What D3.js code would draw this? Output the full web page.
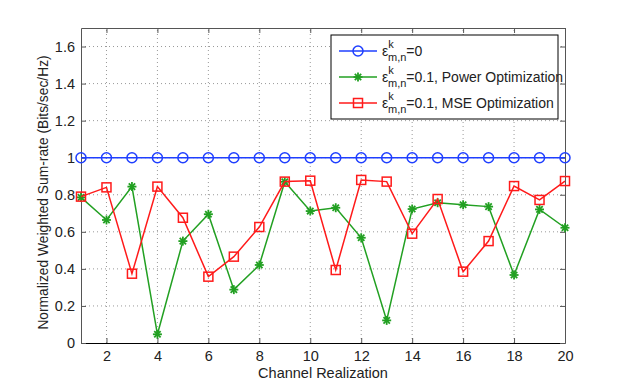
<!DOCTYPE html>
<html>
<head>
<meta charset="utf-8">
<script src="https://cdn.jsdelivr.net/npm/d3@7"></script>
<style>
  body { margin: 0; background: #fff; }
  text { font-family: "Liberation Sans", Arial, sans-serif; fill: #222; }
</style>
</head>
<body>
<svg id="chart"></svg>
<script>
// chart data
const realizations = d3.range(1, 21);
const ideal = realizations.map(() => 1);
const powerOpt = [0.786, 0.664, 0.844, 0.047, 0.55, 0.695, 0.288, 0.421, 0.87, 0.712,
                  0.73, 0.568, 0.122, 0.723, 0.757, 0.746, 0.736, 0.367, 0.721, 0.622];
const mseOpt = [0.79, 0.84, 0.374, 0.844, 0.676, 0.358, 0.466, 0.626, 0.871, 0.876,
                0.394, 0.88, 0.871, 0.59, 0.777, 0.385, 0.55, 0.847, 0.772, 0.874];
const xTicks = [2, 4, 6, 8, 10, 12, 14, 16, 18, 20];
const yTicks = [0, 0.2, 0.4, 0.6, 0.8, 1, 1.2, 1.4, 1.6];

const width = 623, height = 387;
const margin = { left: 81, right: 58, top: 28, bottom: 44 };

const svg = d3.select("#chart").attr("width", width).attr("height", height);

const x = d3.scaleLinear().domain([1, 20]).range([margin.left, width - margin.right]);
const y = d3.scaleLinear().domain([0, 1.7]).range([height - margin.bottom, margin.top]);

// dotted grid
const grid = svg.append("g").attr("stroke", "#999").attr("stroke-dasharray", "1,3").attr("stroke-width", 1);
grid.selectAll("line.gx").data(xTicks.filter(d => d < 20)).join("line")
    .attr("x1", d => x(d)).attr("x2", d => x(d))
    .attr("y1", y(0)).attr("y2", y(1.7));
grid.selectAll("line.gy").data(yTicks.filter(d => d > 0)).join("line")
    .attr("y1", d => y(d)).attr("y2", d => y(d))
    .attr("x1", x(1)).attr("x2", x(20));

// axes (ticks pointing inward, box on all sides)
const axisColor = "#555";
const bottomAxis = svg.append("g")
    .attr("transform", `translate(0,${y(0)})`)
    .call(d3.axisBottom(x).tickValues(xTicks).tickSizeInner(-5).tickSizeOuter(0).tickPadding(8));
const topAxis = svg.append("g")
    .attr("transform", `translate(0,${y(1.7)})`)
    .call(d3.axisTop(x).tickValues(xTicks).tickSizeInner(-5).tickSizeOuter(0).tickFormat(""));
const leftAxis = svg.append("g")
    .attr("transform", `translate(${x(1)},0)`)
    .call(d3.axisLeft(y).tickValues(yTicks).tickSizeInner(-5).tickSizeOuter(0).tickPadding(6).tickFormat(d3.format("~g")));
const rightAxis = svg.append("g")
    .attr("transform", `translate(${x(20)},0)`)
    .call(d3.axisRight(y).tickValues(yTicks).tickSizeInner(-5).tickSizeOuter(0).tickFormat(""));

[bottomAxis, topAxis, leftAxis, rightAxis].forEach(g => {
    g.selectAll("path, line").attr("stroke", axisColor);
    g.selectAll("text").attr("font-size", 14.5).attr("fill", "#111")
        .style("font-family", "Liberation Sans, Arial, sans-serif");
});
bottomAxis.select("path").attr("stroke", "#000");

// axis labels
svg.append("text")
    .attr("x", (x(1) + x(20)) / 2).attr("y", 378)
    .attr("text-anchor", "middle").attr("font-size", 14.5)
    .text("Channel Realization");
svg.append("text")
    .attr("transform", `translate(48,${(y(0) + y(1.7)) / 2 + 7}) rotate(-90)`)
    .attr("text-anchor", "middle").attr("font-size", 13.8)
    .text("Normalized Weighted Sum-rate (Bits/sec/Hz)");

// series
const series = [
    { name: "=0", values: ideal, color: "#1f3fff", marker: "circle" },
    { name: "=0.1, Power Optimization", values: powerOpt, color: "#22a022", marker: "star" },
    { name: "=0.1, MSE Optimization", values: mseOpt, color: "#ff1a1a", marker: "square" }
];

const line = d3.line().x((d, i) => x(realizations[i])).y(d => y(d));

function drawMarker(g, type, color) {
    if (type === "circle") {
        g.append("circle").attr("r", 5).attr("fill", "none").attr("stroke", color).attr("stroke-width", 1.5);
    } else if (type === "square") {
        g.append("rect").attr("x", -4.5).attr("y", -4.5).attr("width", 9).attr("height", 9)
            .attr("fill", "none").attr("stroke", color).attr("stroke-width", 1.5);
    } else {
        const r = 4.5;
        [0, 45, 90, 135].forEach(a => {
            const t = a * Math.PI / 180;
            g.append("line")
                .attr("x1", -r * Math.cos(t)).attr("y1", -r * Math.sin(t))
                .attr("x2", r * Math.cos(t)).attr("y2", r * Math.sin(t))
                .attr("stroke", color).attr("stroke-width", 1.8);
        });
    }
}

// draw in order: blue, green, red (red on top)
series.forEach(s => {
    svg.append("path").datum(s.values)
        .attr("d", line).attr("fill", "none")
        .attr("stroke", s.color).attr("stroke-width", 1.5);
    s.values.forEach((v, i) => {
        const g = svg.append("g").attr("transform", `translate(${x(realizations[i])},${y(v)})`);
        drawMarker(g, s.marker, s.color);
    });
});

// legend
const legend = svg.append("g").attr("transform", "translate(331,35)");
legend.append("rect").attr("width", 227).attr("height", 84)
    .attr("fill", "#fff").attr("stroke", "#000").attr("stroke-width", 1);

series.forEach((s, i) => {
    const ly = 16 + i * 26;
    const row = legend.append("g").attr("transform", `translate(0,${ly})`);
    row.append("line").attr("x1", 8).attr("x2", 46).attr("y1", 0).attr("y2", 0)
        .attr("stroke", s.color).attr("stroke-width", 1.5);
    const m = row.append("g").attr("transform", "translate(27,0)");
    drawMarker(m, s.marker, s.color);
    const t = row.append("text").attr("x", 51).attr("y", 5).attr("font-size", 14);
    t.append("tspan").text("ε");
    t.append("tspan").attr("font-size", 11).attr("dy", -8).text("k");
    t.append("tspan").attr("font-size", 11).attr("x", 57).attr("dy", 13).text("m,n");
    t.append("tspan").attr("dy", -5).text(s.name);
});
</script>
</body>
</html>
